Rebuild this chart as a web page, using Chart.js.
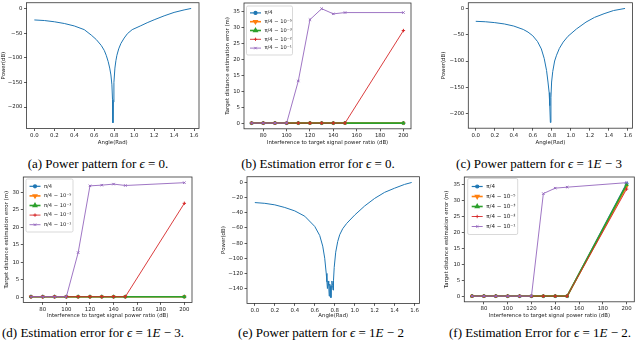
<!DOCTYPE html>
<html><head><meta charset="utf-8">
<script src="https://cdn.jsdelivr.net/npm/chart.js@4"></script>
<style>
html,body{margin:0;padding:0;background:#fff;width:640px;height:345px;overflow:hidden;position:relative}
canvas{position:absolute}
.cap{position:absolute;font-family:"Liberation Serif","Times New Roman",serif;font-size:13px;color:#000;text-align:center;white-space:nowrap;line-height:16px;height:16px;width:260px}
</style></head><body>
<div class="cap" style="left:-32px;top:156px">(a) Power pattern for <i>ϵ</i> = 0.</div>
<div class="cap" style="left:188px;top:156px">(b) Estimation error for <i>ϵ</i> = 0.</div>
<div class="cap" style="left:409px;top:156px">(c) Power pattern for <i>ϵ</i> = 1<i>E</i> − 3</div>
<div class="cap" style="left:-37px;top:325px">(d) Estimation error for <i>ϵ</i> = 1<i>E</i> − 3.</div>
<div class="cap" style="left:191px;top:325px">(e) Power pattern for <i>ϵ</i> = 1<i>E</i> − 2</div>
<div class="cap" style="left:410px;top:325px">(f) Estimation Error for <i>ϵ</i> = 1<i>E</i> − 2.</div>
<script>
// ---------- data ----------
const angleA = [0, 0.1, 0.2, 0.3, 0.4, 0.5, 0.57, 0.62, 0.67, 0.70, 0.72, 0.74, 0.755, 0.767, 0.777, 0.783, 0.787, 0.791, 0.797, 0.807, 0.817, 0.827, 0.845, 0.867, 0.9, 0.933, 0.98, 1.067, 1.13, 1.2, 1.3, 1.4, 1.5, 1.5708];
const powerA = [-23.3, -24.5, -27, -30.5, -35.5, -43, -54, -63, -75, -85, -95, -108, -121, -135, -155, -185, -232, -190, -150, -121, -106, -95, -82, -71, -60, -51, -43, -35, -29, -23, -15, -8, -3, 0];

const angleC = [0, 0.1, 0.2, 0.3, 0.4, 0.5, 0.55, 0.6, 0.65, 0.69, 0.72, 0.745, 0.76, 0.772, 0.779, 0.785, 0.791, 0.798, 0.81, 0.83, 0.85, 0.88, 0.92, 0.97, 1.06, 1.16, 1.25, 1.35, 1.45, 1.5708];
const powerC = [-24.5, -25.3, -27, -29.5, -33.5, -40, -45, -52, -63, -77, -95, -118, -140, -160, -185, -217, -170, -140, -120, -100, -89, -76, -64, -53, -39, -26, -17, -10, -4, 0];

const angleE = [0, 0.1, 0.2, 0.3, 0.4, 0.5, 0.6, 0.65, 0.68, 0.70, 0.715, 0.722, 0.727, 0.733, 0.74, 0.745, 0.75, 0.757, 0.762, 0.767, 0.772, 0.778, 0.783, 0.788, 0.795, 0.81, 0.83, 0.85, 0.88, 0.92, 1.0, 1.1, 1.2, 1.3, 1.4, 1.5, 1.5708];
const powerE = [-26.5, -27.5, -29.5, -33, -37.5, -44.5, -58, -70, -84, -100, -120, -131, -140, -130, -136, -150, -134, -137, -152, -136, -130, -136, -142, -129, -112, -92, -78, -69, -61, -54, -43, -31, -21, -13, -7.5, -2.5, 0];

const ratioDb = [70, 80, 90, 100, 110, 120, 130, 140, 150, 200];
const seriesNames = ['π/4', 'π/4 − 10⁻⁵', 'π/4 − 10⁻³', 'π/4 − 10⁻²', 'π/4 − 10⁻¹'];

const errB_pi4 = [0.2, 0.2, 0.2, 0.2, 0.2, 0.2, 0.2, 0.2, 0.2, 0.2];
const errB_m5  = [0.2, 0.2, 0.2, 0.2, 0.2, 0.2, 0.2, 0.2, 0.2, 0.2];
const errB_m3  = [0.2, 0.2, 0.2, 0.2, 0.2, 0.2, 0.2, 0.2, 0.2, 0.2];
const errB_m2  = [0.2, 0.2, 0.2, 0.2, 0.2, 0.2, 0.2, 0.2, 0.2, 29.0];
const errB_m1  = [0.2, 0.2, 0.2, 0.2, 13.3, 32.4, 35.8, 34.2, 34.6, 34.6];

const errD_pi4 = [0.2, 0.2, 0.2, 0.2, 0.2, 0.2, 0.2, 0.2, 0.2, 0.2];
const errD_m5  = [0.2, 0.2, 0.2, 0.2, 0.2, 0.2, 0.2, 0.2, 0.2, 0.2];
const errD_m3  = [0.2, 0.2, 0.2, 0.2, 0.2, 0.2, 0.2, 0.2, 0.2, 0.2];
const errD_m2  = [0.2, 0.2, 0.2, 0.2, 0.2, 0.2, 0.2, 0.2, 0.2, 26.9];
const errD_m1  = [0.2, 0.2, 0.2, 0.2, 12.8, 31.9, 32.1, 32.4, 32.0, 32.8];

const errF_pi4 = [0.2, 0.2, 0.2, 0.2, 0.2, 0.2, 0.2, 0.2, 0.2, 35.2];
const errF_m5  = [0.2, 0.2, 0.2, 0.2, 0.2, 0.2, 0.2, 0.2, 0.2, 34.3];
const errF_m3  = [0.2, 0.2, 0.2, 0.2, 0.2, 0.2, 0.2, 0.2, 0.2, 34.9];
const errF_m2  = [0.2, 0.2, 0.2, 0.2, 0.2, 0.2, 0.2, 0.2, 0.2, 33.5];
const errF_m1  = [0.2, 0.2, 0.2, 0.2, 0.2, 0.2, 32.1, 33.8, 34.1, 35.5];

// tick labels
const angleTicks = [0, 0.2, 0.4, 0.6, 0.8, 1.0, 1.2, 1.4, 1.6];
const powerTicksAC = [0, -50, -100, -150, -200];
const powerTicksE = [0, -20, -40, -60, -80, -100, -120, -140];
const ratioTicks = [80, 100, 120, 140, 160, 180, 200];
const errTicks35 = [0, 5, 10, 15, 20, 25, 30, 35];
const errTicks30 = [0, 5, 10, 15, 20, 25, 30];

// ---------- styles ----------
const FONT = 'DejaVu Sans';
const TXT = '#222';
const AX = '#333';
const seriesStyle = [
  {color:'#1f77b4', pointStyle:'circle',   rotation:0,   radius:1.5, lw:1.2},
  {color:'#ff7f0e', pointStyle:'triangle', rotation:180, radius:1.8, lw:1.6},
  {color:'#2ca02c', pointStyle:'triangle', rotation:0,   radius:1.8, lw:1.6},
  {color:'#d62728', pointStyle:'cross',    rotation:0,   radius:1.7, lw:0.9},
  {color:'#9467bd', pointStyle:'crossRot', rotation:0,   radius:1.7, lw:0.9}
];

const framePlugin = {
  id: 'frameBox',
  afterDatasetsDraw(chart) {
    const a = chart.chartArea, ctx = chart.ctx;
    ctx.save();
    ctx.strokeStyle = AX; ctx.lineWidth = 0.8;
    ctx.strokeRect(a.left, a.top, a.right - a.left, a.bottom - a.top);
    ctx.restore();
  }
};
const legendPlugin = {
  id: 'legendBox',
  afterDraw(chart, args, o) {
    if (!o || !o.show) return;
    const {ctx, chartArea: a} = chart;
    const ds = chart.data.datasets;
    const x0 = a.left + o.dx, y0 = a.top + o.dy;
    const h = o.pad * 2 + ds.length * o.rowH;
    ctx.save();
    ctx.beginPath();
    const r = 1.5;
    ctx.moveTo(x0 + r, y0); ctx.lineTo(x0 + o.width - r, y0); ctx.quadraticCurveTo(x0 + o.width, y0, x0 + o.width, y0 + r);
    ctx.lineTo(x0 + o.width, y0 + h - r); ctx.quadraticCurveTo(x0 + o.width, y0 + h, x0 + o.width - r, y0 + h);
    ctx.lineTo(x0 + r, y0 + h); ctx.quadraticCurveTo(x0, y0 + h, x0, y0 + h - r);
    ctx.lineTo(x0, y0 + r); ctx.quadraticCurveTo(x0, y0, x0 + r, y0); ctx.closePath();
    ctx.fillStyle = 'rgba(255,255,255,0.85)'; ctx.fill();
    ctx.strokeStyle = '#cfcfcf'; ctx.lineWidth = 0.8; ctx.stroke();
    ctx.font = o.fontSize + 'px "' + FONT + '"';
    ctx.textBaseline = 'middle'; ctx.textAlign = 'left';
    ds.forEach((d, i) => {
      const cy = y0 + o.pad + o.rowH * (i + 0.5);
      const hx0 = x0 + o.pad + 1, hx1 = hx0 + o.handle;
      ctx.strokeStyle = d.borderColor; ctx.fillStyle = d.borderColor; ctx.lineWidth = d.borderWidth;
      ctx.beginPath(); ctx.moveTo(hx0, cy); ctx.lineTo(hx1, cy); ctx.stroke();
      Chart.helpers.drawPoint(ctx, {pointStyle: d.pointStyle, rotation: d.pointRotation || 0, radius: d.pointRadius, borderWidth: 1}, (hx0 + hx1) / 2, cy);
      ctx.fillStyle = TXT;
      ctx.fillText(d.label, hx1 + o.gap, cy);
    });
    ctx.restore();
  }
};
Chart.register(framePlugin, legendPlugin);

function padRange(vals) {
  const lo = Math.min(...vals), hi = Math.max(...vals), m = (hi - lo) * 0.05;
  return [lo - m, hi + m];
}
const fmtMinus = v => (v < 0 ? '\u2212' + Math.abs(v) : String(v));

function axisOpts(range, tickVals, fmt, title, fitFn) {
  return {
    type: 'linear', min: range[0], max: range[1],
    afterBuildTicks: s => { s.ticks = tickVals.map(v => ({value: v})); },
    afterFit: fitFn,
    ticks: {autoSkip: false, maxRotation: 0, padding: 1.5, color: TXT, font: {family: FONT, size: 5.4}, callback: v => fmt(v)},
    grid: {display: true, drawOnChartArea: false, drawTicks: true, tickLength: 2.5, color: AX, lineWidth: 0.8},
    border: {display: false},
    title: {display: true, text: title, color: TXT, padding: 0, font: {family: FONT, size: 5.4}}
  };
}

function makeChart(p) {
  const c = document.createElement('canvas');
  c.width = p.W; c.height = p.H;
  c.style.left = p.L + 'px'; c.style.top = p.T + 'px';
  c.style.width = p.W + 'px'; c.style.height = p.H + 'px';
  document.body.appendChild(c);
  const xs = p.datasets.flatMap(d => d.data.map(q => q.x));
  const ys = p.datasets.flatMap(d => d.data.map(q => q.y));
  new Chart(c, {
    type: 'line',
    data: {datasets: p.datasets},
    options: {
      responsive: false, animation: false, devicePixelRatio: 1,
      layout: {padding: {left: 0, top: p.areaT - p.T, right: p.L + p.W - p.areaR, bottom: 0}},
      plugins: {legend: {display: false}, tooltip: {enabled: false}, legendBox: p.legend || {}},
      scales: {
        x: axisOpts(padRange(xs), p.xTicks, p.xFmt, p.xTitle, s => { s.height = p.T + p.H - p.areaB; }),
        y: axisOpts(padRange(ys), p.yTicks, fmtMinus, p.yTitle, s => { s.width = p.areaL - p.L; })
      }
    }
  });
}

function powerSet(xArr, yArr) {
  return [{data: xArr.map((x, i) => ({x, y: yArr[i]})), borderColor: '#1f77b4', borderWidth: 1,
    pointRadius: 0, borderJoinStyle: 'round', tension: 0}];
}
function errSets(arrs) {
  const n = arrs.length;
  return arrs.map((arr, i) => {
    const s = seriesStyle[i];
    return {label: seriesNames[i], data: ratioDb.map((x, j) => ({x, y: arr[j]})),
      borderColor: s.color, backgroundColor: s.color, borderWidth: s.lw,
      pointStyle: s.pointStyle, pointRotation: s.rotation, pointRadius: s.radius, pointBorderWidth: 1,
      pointBackgroundColor: s.color, pointBorderColor: s.color, order: n - 1 - i, tension: 0};
  });
}
const fmtAngle = v => v.toFixed(1);
const fmtInt = v => String(v);
const powerTitleY = 'Power(dB)';
const errTitleY = 'Target distance estimation error (m)';
const ratioTitle = 'Interference to target signal power ratio (dB)';

makeChart({L:0, T:-2, W:203, H:148, areaL:26.5, areaR:199, areaT:0.3, areaB:128.5,
  datasets: powerSet(angleA, powerA), xTicks: angleTicks, yTicks: powerTicksAC, xFmt: fmtAngle, xTitle: 'Angle(Rad)', yTitle: powerTitleY});
makeChart({L:224, T:-2, W:192, H:148, areaL:244, areaR:412.5, areaT:1.7, areaB:128.8,
  datasets: errSets([errB_pi4, errB_m5, errB_m3, errB_m2, errB_m1]), xTicks: ratioTicks, yTicks: errTicks35, xFmt: fmtInt, xTitle: ratioTitle, yTitle: errTitleY,
  legend: {show: true, dx: 2.5, dy: 3, rowH: 8.8, pad: 2.5, width: 46, handle: 11, gap: 3.5, fontSize: 5.2}});
makeChart({L:440, T:-2, W:200, H:148, areaL:468.3, areaR:632.5, areaT:0.2, areaB:128.2,
  datasets: powerSet(angleC, powerC), xTicks: angleTicks, yTicks: powerTicksAC, xFmt: fmtAngle, xTitle: 'Angle(Rad)', yTitle: powerTitleY});
makeChart({L:3, T:172, W:194, H:147, areaL:23.3, areaR:192.5, areaT:175, areaB:302.4,
  datasets: errSets([errD_pi4, errD_m5, errD_m3, errD_m2, errD_m1]), xTicks: ratioTicks, yTicks: errTicks30, xFmt: fmtInt, xTitle: ratioTitle, yTitle: errTitleY,
  legend: {show: true, dx: 2.7, dy: 2, rowH: 9.6, pad: 2.5, width: 47, handle: 11, gap: 3.5, fontSize: 5.2}});
makeChart({L:220, T:172, W:204, H:147, areaL:247, areaR:419.5, areaT:175, areaB:303.4,
  datasets: powerSet(angleE, powerE), xTicks: angleTicks, yTicks: powerTicksE, xFmt: fmtAngle, xTitle: 'Angle(Rad)', yTitle: powerTitleY});
makeChart({L:443, T:172, W:197, H:147, areaL:464.3, areaR:634.3, areaT:175.3, areaB:301.8,
  datasets: errSets([errF_pi4, errF_m5, errF_m3, errF_m2, errF_m1]), xTicks: ratioTicks, yTicks: errTicks35, xFmt: fmtInt, xTitle: ratioTitle, yTitle: errTitleY,
  legend: {show: true, dx: 3.4, dy: 1.5, rowH: 10, pad: 3, width: 50, handle: 11, gap: 3.5, fontSize: 5.6}});
</script>
</body></html>
